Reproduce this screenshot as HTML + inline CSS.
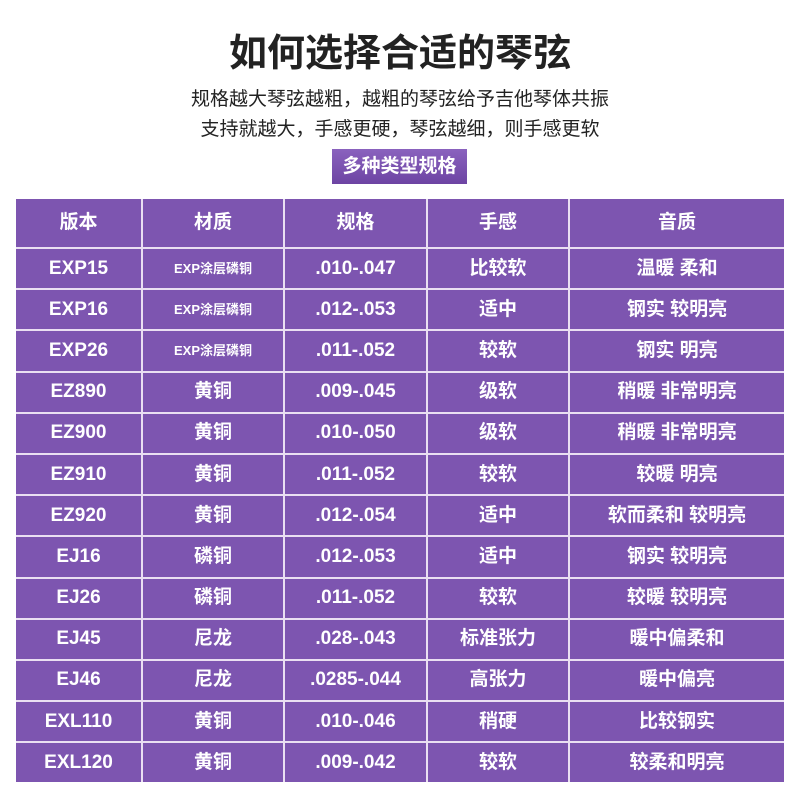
<!DOCTYPE html>
<html><head><meta charset="utf-8"><style>
body{margin:0;width:800px;height:800px;background:#fff;font-family:"Liberation Sans","Noto Sans CJK SC",sans-serif;position:relative;overflow:hidden}
.t{position:absolute;left:0;width:800px;text-align:center;color:#222;font-weight:bold}
.tag{position:absolute;left:332px;top:149px;width:135px;height:35px;background:linear-gradient(#8a62be,#6d44a3);color:#fff;font-weight:bold;font-size:19px;line-height:35px;text-align:center}
table{position:absolute;left:16px;top:199px;width:768px;border-collapse:collapse;background:#7d55b0;color:#fff;font-weight:bold;table-layout:fixed}
td{border:2px solid #eadff2;text-align:center;font-size:19px;height:39.2px;padding:0;line-height:20px}
tr:first-child td{border-top:none;height:48px}
td:first-child{border-left:none}td:last-child{border-right:none}
tr:last-child td{border-bottom:none}
.s{font-size:13px}
</style></head><body>
<div class="t" style="top:22px;font-size:38px">如何选择合适的琴弦</div>
<div class="t" style="top:84px;font-size:19px;font-weight:normal">规格越大琴弦越粗，越粗的琴弦给予吉他琴体共振</div>
<div class="t" style="top:114px;font-size:19px;font-weight:normal">支持就越大，手感更硬，琴弦越细，则手感更软</div>
<div class="tag">多种类型规格</div>
<table>
<colgroup><col style="width:126px"><col style="width:142px"><col style="width:143px"><col style="width:142px"><col style="width:215px"></colgroup>
<tr><td>版本</td><td>材质</td><td>规格</td><td>手感</td><td>音质</td></tr>
<tr><td>EXP15</td><td class="s">EXP涂层磷铜</td><td>.010-.047</td><td>比较软</td><td>温暖 柔和</td></tr>
<tr><td>EXP16</td><td class="s">EXP涂层磷铜</td><td>.012-.053</td><td>适中</td><td>钢实 较明亮</td></tr>
<tr><td>EXP26</td><td class="s">EXP涂层磷铜</td><td>.011-.052</td><td>较软</td><td>钢实 明亮</td></tr>
<tr><td>EZ890</td><td>黄铜</td><td>.009-.045</td><td>级软</td><td>稍暖 非常明亮</td></tr>
<tr><td>EZ900</td><td>黄铜</td><td>.010-.050</td><td>级软</td><td>稍暖 非常明亮</td></tr>
<tr><td>EZ910</td><td>黄铜</td><td>.011-.052</td><td>较软</td><td>较暖 明亮</td></tr>
<tr><td>EZ920</td><td>黄铜</td><td>.012-.054</td><td>适中</td><td>软而柔和 较明亮</td></tr>
<tr><td>EJ16</td><td>磷铜</td><td>.012-.053</td><td>适中</td><td>钢实 较明亮</td></tr>
<tr><td>EJ26</td><td>磷铜</td><td>.011-.052</td><td>较软</td><td>较暖 较明亮</td></tr>
<tr><td>EJ45</td><td>尼龙</td><td>.028-.043</td><td>标准张力</td><td>暖中偏柔和</td></tr>
<tr><td>EJ46</td><td>尼龙</td><td>.0285-.044</td><td>高张力</td><td>暖中偏亮</td></tr>
<tr><td>EXL110</td><td>黄铜</td><td>.010-.046</td><td>稍硬</td><td>比较钢实</td></tr>
<tr><td>EXL120</td><td>黄铜</td><td>.009-.042</td><td>较软</td><td>较柔和明亮</td></tr>
</table>
</body></html>
